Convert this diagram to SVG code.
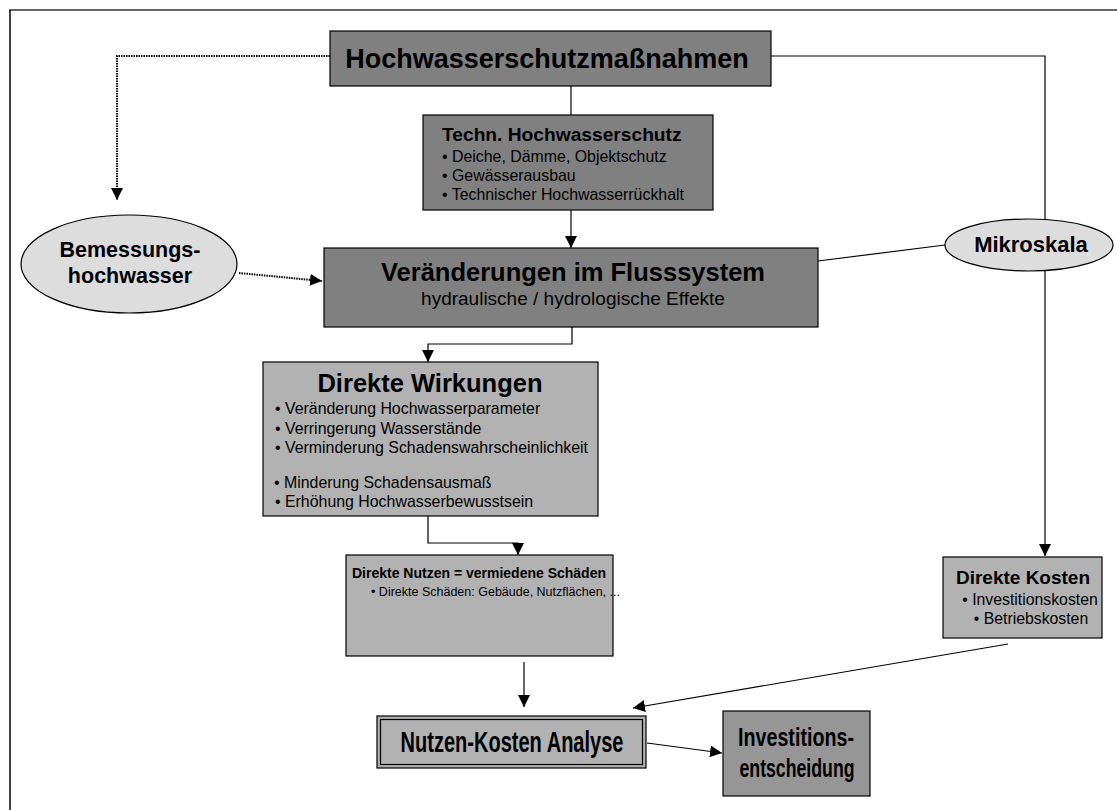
<svg xmlns="http://www.w3.org/2000/svg" width="1117" height="810" viewBox="0 0 1117 810">
<defs>
<marker id="ah" markerUnits="userSpaceOnUse" markerWidth="12" markerHeight="12" viewBox="0 0 12 12" refX="12" refY="6" orient="auto">
<path d="M0,0 L12,6 L0,12 Z" fill="#000"/>
</marker>
</defs>
<style>
text{font-family:"Liberation Sans",Arial,sans-serif;fill:#000}
.b{font-weight:bold}
.dark{fill:#808080;stroke:#000;stroke-width:1.2}
.light{fill:#b2b2b2;stroke:#000;stroke-width:1.2}
.mid{fill:#969696;stroke:#000;stroke-width:1.2}
.ell{fill:#dddddd;stroke:#000;stroke-width:1.2}
.c{fill:none;stroke:#000;stroke-width:1.2}
.d{fill:none;stroke:#000;stroke-width:2;stroke-dasharray:1.5 1}
</style>
<rect width="1117" height="810" fill="#fff"/>
<line x1="9" y1="10" x2="1117" y2="10" stroke="#666" stroke-width="2.2"/>
<line x1="10" y1="10" x2="10" y2="810" stroke="#000" stroke-width="1.5"/>

<g id="connectors">
<polyline class="d" points="330,56 117,56 117,200" marker-end="url(#ah)"/>
<line class="d" x1="239" y1="273" x2="322" y2="281" marker-end="url(#ah)"/>
<line class="c" x1="571" y1="86" x2="571" y2="115"/>
<line class="c" x1="571" y1="210" x2="571" y2="248" marker-end="url(#ah)"/>
<polyline class="c" points="771,56 1045,56 1045,220"/>
<line class="c" x1="818" y1="261" x2="945" y2="245"/>
<line class="c" x1="1045" y1="271" x2="1045" y2="556" marker-end="url(#ah)"/>
<polyline class="c" points="572,327 572,344 428,344 428,362" marker-end="url(#ah)"/>
<polyline class="c" points="428,516 428,543 518,543 518,555" marker-end="url(#ah)"/>
<line class="c" x1="524" y1="662" x2="524" y2="707" marker-end="url(#ah)"/>
<line class="c" x1="1008" y1="644" x2="633" y2="708" marker-end="url(#ah)"/>
<line class="c" x1="647" y1="743" x2="722" y2="753" marker-end="url(#ah)"/>
</g>

<g id="n-hochwasserschutz">
<rect class="dark" x="330" y="31" width="441" height="55"/>
<text class="b" x="547" y="68" font-size="27" text-anchor="middle">Hochwasserschutzmaßnahmen</text>
</g>

<g id="n-techn">
<rect class="dark" x="423" y="115" width="290" height="95"/>
<text class="b" x="442" y="141" font-size="19.2">Techn. Hochwasserschutz</text>
<text x="442" y="162" font-size="15.9">• Deiche, Dämme, Objektschutz</text>
<text x="442" y="181" font-size="15.9">• Gewässerausbau</text>
<text x="442" y="200" font-size="15.9">• Technischer Hochwasserrückhalt</text>
</g>

<g id="n-bemessung">
<ellipse class="ell" cx="129" cy="264" rx="108" ry="49"/>
<text class="b" x="130" y="257" font-size="21.5" text-anchor="middle">Bemessungs-</text>
<text class="b" x="130" y="283" font-size="21.5" text-anchor="middle">hochwasser</text>
</g>

<g id="n-mikroskala">
<ellipse class="ell" cx="1029" cy="245" rx="84" ry="26"/>
<text class="b" x="1031" y="252" font-size="22" text-anchor="middle">Mikroskala</text>
</g>

<g id="n-veraenderungen">
<rect class="dark" x="324" y="248" width="494" height="79"/>
<text class="b" x="573" y="281" font-size="25.5" text-anchor="middle">Veränderungen im Flusssystem</text>
<text x="573" y="305" font-size="19" text-anchor="middle">hydraulische / hydrologische Effekte</text>
</g>

<g id="n-wirkungen">
<rect class="light" x="263" y="362" width="335" height="154"/>
<text class="b" x="430" y="392" font-size="25.5" text-anchor="middle">Direkte Wirkungen</text>
<text x="275" y="414" font-size="15.9">• Veränderung Hochwasserparameter</text>
<text x="275" y="434" font-size="15.9">• Verringerung Wasserstände</text>
<text x="275" y="453" font-size="15.9">• Verminderung Schadenswahrscheinlichkeit</text>
<text x="274" y="488" font-size="15.9">• Minderung Schadensausmaß</text>
<text x="275" y="507" font-size="15.9">• Erhöhung Hochwasserbewusstsein</text>
</g>

<g id="n-nutzen">
<rect class="light" x="346" y="555" width="267" height="101"/>
<text class="b" x="479" y="578" font-size="14" text-anchor="middle">Direkte Nutzen = vermiedene Schäden</text>
<text x="371" y="596" font-size="12.5">• Direkte Schäden: Gebäude, Nutzflächen, ...</text>
</g>

<g id="n-kosten">
<rect class="light" x="943" y="557" width="159" height="81"/>
<text class="b" x="1023" y="584" font-size="19" text-anchor="middle">Direkte Kosten</text>
<text x="1030" y="605" font-size="15.8" text-anchor="middle">• Investitionskosten</text>
<text x="1031" y="624" font-size="15.8" text-anchor="middle">• Betriebskosten</text>
</g>

<g id="n-nka">
<rect class="light" x="377" y="716" width="269" height="52"/>
<rect x="380.5" y="719.5" width="262" height="45" fill="none" stroke="#000" stroke-width="1.2"/>
<text class="b" x="512" y="752" font-size="29" text-anchor="middle" textLength="223" lengthAdjust="spacingAndGlyphs">Nutzen-Kosten Analyse</text>
</g>

<g id="n-investition">
<rect class="mid" x="723" y="711" width="147" height="85"/>
<text class="b" x="796" y="746" font-size="26" text-anchor="middle" textLength="116" lengthAdjust="spacingAndGlyphs">Investitions-</text>
<text class="b" x="797" y="777" font-size="26" text-anchor="middle" textLength="115" lengthAdjust="spacingAndGlyphs">entscheidung</text>
</g>
</svg>
